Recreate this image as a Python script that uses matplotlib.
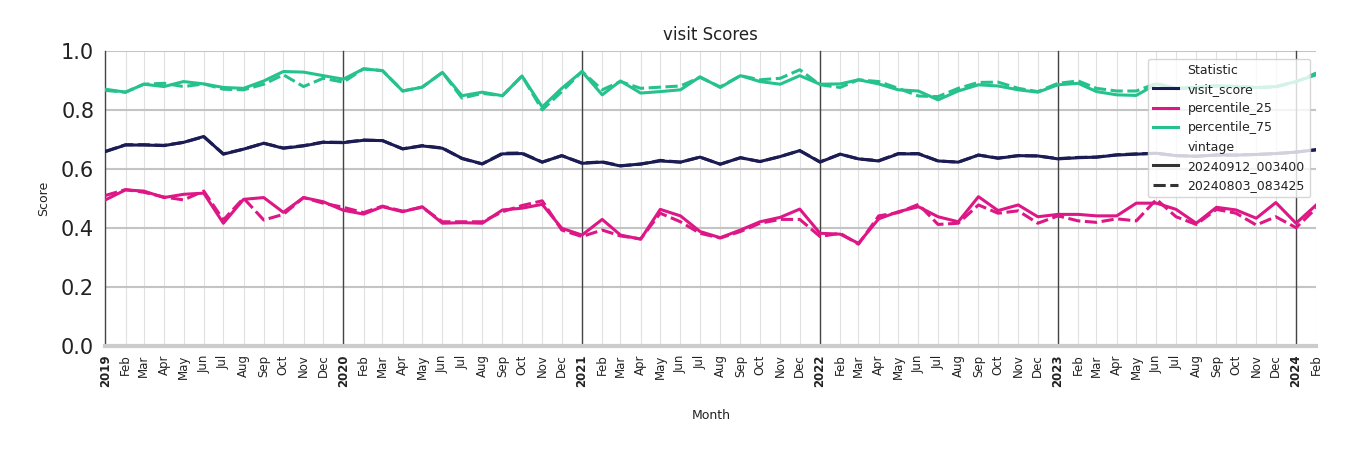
"""Plots monthly visit scores for two data vintages
"""

import pandas as pd
import matplotlib.pyplot as plt
from matplotlib.lines import Line2D

months = pd.date_range("2019-01-01", "2024-02-01", freq="MS")

visit_new = [0.659, 0.681, 0.681, 0.679, 0.690, 0.710, 0.650, 0.667, 0.687, 0.670, 0.678, 0.690,
             0.689, 0.697, 0.696, 0.668, 0.678, 0.670, 0.636, 0.617, 0.651, 0.652, 0.623, 0.645,
             0.619, 0.623, 0.610, 0.617, 0.627, 0.623, 0.640, 0.616, 0.638, 0.625, 0.642, 0.662,
             0.623, 0.650, 0.634, 0.627, 0.651, 0.651, 0.627, 0.623, 0.647, 0.636, 0.645, 0.644,
             0.634, 0.638, 0.640, 0.647, 0.650, 0.653, 0.645, 0.643, 0.647, 0.647, 0.649, 0.652,
             0.657, 0.665]
visit_old = [0.659, 0.682, 0.682, 0.680, 0.690, 0.709, 0.651, 0.667, 0.687, 0.671, 0.679, 0.691,
             0.690, 0.698, 0.696, 0.668, 0.679, 0.671, 0.635, 0.617, 0.653, 0.654, 0.623, 0.645,
             0.620, 0.624, 0.611, 0.616, 0.629, 0.623, 0.640, 0.616, 0.638, 0.625, 0.642, 0.662,
             0.624, 0.650, 0.634, 0.628, 0.652, 0.652, 0.627, 0.623, 0.647, 0.637, 0.645, 0.644,
             0.635, 0.639, 0.640, 0.648, 0.651, 0.653, 0.645, 0.643, 0.647, 0.647, 0.649, 0.652,
             0.657, 0.665]

p25_new = [0.495, 0.529, 0.525, 0.503, 0.514, 0.518, 0.416, 0.497, 0.503, 0.453, 0.503, 0.489,
           0.460, 0.447, 0.472, 0.455, 0.472, 0.416, 0.418, 0.416, 0.461, 0.467, 0.480, 0.399,
           0.376, 0.429, 0.376, 0.362, 0.463, 0.441, 0.388, 0.367, 0.393, 0.421, 0.436, 0.464,
           0.382, 0.379, 0.348, 0.431, 0.455, 0.472, 0.438, 0.421, 0.506, 0.459, 0.478, 0.438,
           0.446, 0.446, 0.441, 0.441, 0.484, 0.484, 0.463, 0.416, 0.470, 0.461, 0.433, 0.486,
           0.416, 0.478]
p25_old = [0.510, 0.530, 0.521, 0.505, 0.495, 0.525, 0.427, 0.501, 0.427, 0.446, 0.503, 0.484,
           0.470, 0.452, 0.474, 0.457, 0.470, 0.421, 0.421, 0.421, 0.455, 0.476, 0.492, 0.393,
           0.371, 0.393, 0.373, 0.363, 0.450, 0.421, 0.382, 0.366, 0.388, 0.416, 0.429, 0.429,
           0.371, 0.382, 0.345, 0.441, 0.452, 0.480, 0.412, 0.416, 0.478, 0.450, 0.458, 0.416,
           0.441, 0.424, 0.419, 0.431, 0.424, 0.497, 0.438, 0.412, 0.463, 0.450, 0.410, 0.438,
           0.401, 0.467]

p75_new = [0.870, 0.860, 0.887, 0.879, 0.896, 0.888, 0.876, 0.873, 0.898, 0.930, 0.928, 0.916,
           0.904, 0.939, 0.933, 0.864, 0.877, 0.927, 0.848, 0.860, 0.848, 0.915, 0.810, 0.873,
           0.930, 0.851, 0.898, 0.857, 0.862, 0.868, 0.912, 0.876, 0.916, 0.896, 0.887, 0.916,
           0.887, 0.888, 0.902, 0.888, 0.868, 0.864, 0.834, 0.864, 0.885, 0.881, 0.868, 0.860,
           0.885, 0.890, 0.862, 0.851, 0.849, 0.888, 0.873, 0.877, 0.882, 0.879, 0.876, 0.879,
           0.896, 0.919]
p75_old = [0.866, 0.860, 0.887, 0.890, 0.879, 0.888, 0.870, 0.868, 0.887, 0.919, 0.879, 0.907,
           0.894, 0.939, 0.933, 0.864, 0.877, 0.927, 0.840, 0.856, 0.848, 0.915, 0.800, 0.862,
           0.930, 0.868, 0.896, 0.873, 0.877, 0.881, 0.910, 0.878, 0.916, 0.902, 0.907, 0.936,
           0.885, 0.876, 0.902, 0.896, 0.873, 0.847, 0.845, 0.873, 0.893, 0.894, 0.873, 0.862,
           0.890, 0.898, 0.873, 0.864, 0.864, 0.890, 0.871, 0.876, 0.881, 0.880, 0.875, 0.878,
           0.895, 0.925]

vintages = ["20240912_003400", "20240803_083425"]
statistics = ["visit_score", "percentile_25", "percentile_75"]

colors = {
    "visit_score": "#1c1c54",
    "percentile_25": "#dd1785",
    "percentile_75": "#26c28e",
}
dashes = {vintages[0]: "", vintages[1]: (4, 1.5)}

series = {
    ("visit_score", vintages[0]): visit_new,
    ("visit_score", vintages[1]): visit_old,
    ("percentile_25", vintages[0]): p25_new,
    ("percentile_25", vintages[1]): p25_old,
    ("percentile_75", vintages[0]): p75_new,
    ("percentile_75", vintages[1]): p75_old,
}

fig = plt.figure(figsize=(13.5, 4.5), dpi=100)
ax = fig.add_axes([0.078, 0.231, 0.897, 0.656])

for stat in statistics:
    for vint in vintages:
        line, = ax.plot(months, series[(stat, vint)], color=colors[stat], lw=2.2, zorder=3)
        if dashes[vint]:
            line.set_dashes(dashes[vint])

ax.set_xlim(months[0], months[-1])
ax.set_ylim(0, 1.0)
ax.set_yticks([0.0, 0.2, 0.4, 0.6, 0.8, 1.0])
ax.tick_params(axis="y", labelsize=15, length=0, pad=8, colors="#222222")
ax.yaxis.grid(True, color="#c4c4c4", lw=1.5)

# monthly ticks, bold year labels
ax.set_xticks(months)
labels = [d.strftime("%Y") if d.month == 1 else d.strftime("%b") for d in months]
ax.set_xticklabels(labels, rotation=90, fontsize=8.5, color="#222222")
for lab, d in zip(ax.get_xticklabels(), months):
    if d.month == 1:
        lab.set_fontweight("bold")
ax.tick_params(axis="x", length=0, pad=6)
ax.xaxis.grid(True, color="#e0e0e0", lw=0.8)
ax.set_axisbelow(True)
for d in months:
    if d.month == 1:
        ax.axvline(d, color="#444444", lw=1.0, zorder=2, clip_on=False)

for side in ["top", "right", "left"]:
    ax.spines[side].set_visible(False)
ax.spines["bottom"].set_color("#cccccc")
ax.spines["bottom"].set_linewidth(3)

ax.set_title("visit Scores", fontsize=12, color="#222222", pad=8)
ax.set_xlabel("Month", fontsize=9, color="#222222", labelpad=16)
ax.set_ylabel("Score", fontsize=9, color="#222222", labelpad=8)

# seaborn-like legend with sub headers
blank = Line2D([], [], color="none")
handles = [blank] + [Line2D([], [], color=colors[s], lw=2.2) for s in statistics] + [blank]
handles.append(Line2D([], [], color="#333333", lw=2.2))
handles.append(Line2D([], [], color="#333333", lw=2.2, dashes=(4, 1.5)))
names = ["Statistic"] + statistics + ["vintage"] + vintages
leg = ax.legend(handles, names, loc="upper right", fontsize=9, framealpha=0.8,
                edgecolor="#cccccc", bbox_to_anchor=(1.0, 0.995))
leg.set_zorder(5)
for t in leg.get_texts():
    t.set_color("#222222")

plt.savefig("out.png")
